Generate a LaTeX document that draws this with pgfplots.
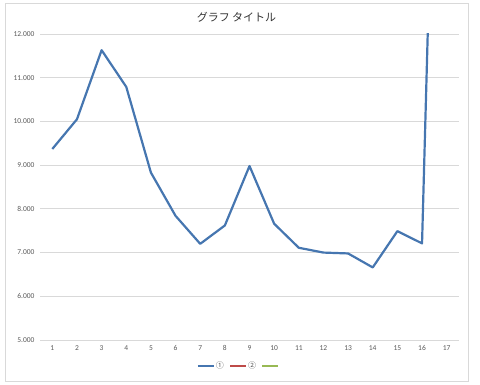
\documentclass[border=0pt]{standalone}
\usepackage{pgfplots}
\pgfplotsset{compat=1.18}
\usepackage{fontspec}
\setmainfont{Carlito}
\newfontfamily\jp{Noto Sans CJK JP}
\definecolor{s1}{HTML}{4676B0}
\definecolor{s2}{HTML}{BE4B48}
\definecolor{s3}{HTML}{98B954}
\definecolor{grid}{HTML}{D9D9D9}
\definecolor{lab}{HTML}{595959}
\begin{document}
\begin{tikzpicture}[x=1bp,y=1bp]
\path[use as bounding box] (0,0) rectangle (480,384);
\draw[draw=grid,line width=0.8bp] (5,3) rectangle (468,381);
\node[font=\jp\fontsize{11bp}{13bp}\selectfont,text=black!80] at (236.5,367) {グラフ タイトル};
\begin{axis}[
  at={(40bp,44bp)}, anchor=south west,
  scale only axis, width=419bp, height=306bp,
  xmin=0.5, xmax=17.5, ymin=5, ymax=12,
  xtick={1,...,17}, ytick={5,6,...,12},
  axis line style={draw=none},
  major tick length=0pt,
  ymajorgrids, major grid style={draw=grid,line width=0.8bp},
  /pgf/number format/assume math mode=true,
  yticklabel={\pgfmathprintnumber[fixed,zerofill,precision=3]{\tick}},
  xticklabel={\pgfmathprintnumber{\tick}},
  tick label style={font=\fontsize{7.5bp}{9bp}\selectfont, text=lab},
  yticklabel style={xshift=-2bp},
  xticklabel style={yshift=-2bp},
  legend style={at={(axis description cs:0.475,-0.085)}, anchor=center, draw=none, fill=none,
    font=\jp\fontsize{8bp}{9bp}\selectfont, text=lab, legend columns=-1,
    nodes={inner xsep=1bp},
    /tikz/every even column/.append style={column sep=4bp}},
  legend image code/.code={\draw[#1] (0bp,0bp) -- (16bp,0bp);},
]
\addplot[s1, line width=2.2bp, line join=round] coordinates {
(1,9.37) (2,10.05) (3,11.63) (4,10.79) (5,8.83) (6,7.84) (7,7.20) (8,7.62)
(9,8.98) (10,7.66) (11,7.11) (12,7.00) (13,6.98) (14,6.66) (15,7.49) (16,7.21) (17,28)
};
\addlegendentry{①}
\addlegendimage{s2, line width=2.2bp}
\addlegendentry{②}
\addlegendimage{s3, line width=2.2bp}
\addlegendentry{}
\end{axis}
\end{tikzpicture}
\end{document}
